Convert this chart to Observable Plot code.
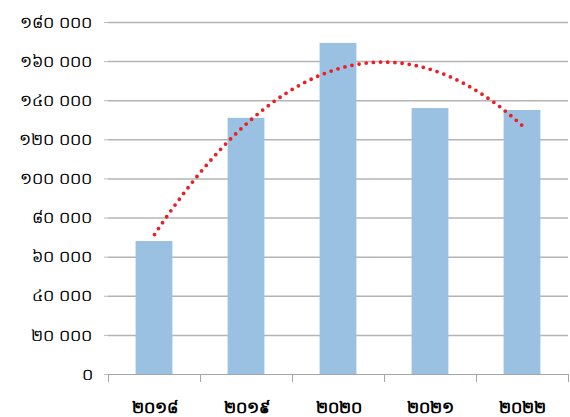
<!DOCTYPE html>
<html><head><meta charset="utf-8">
<script src="https://cdn.jsdelivr.net/npm/d3@7"></script>
<script src="https://cdn.jsdelivr.net/npm/@observablehq/plot@0.6"></script>
<style>body{margin:0;background:#fff;} </style>
</head><body><div id="chart"></div>
<script>
const years = [2018, 2019, 2020, 2021, 2022];
const values = [68000, 131000, 169300, 136000, 135000];
const yTicks = [0, 20000, 40000, 60000, 80000, 100000, 120000, 140000, 160000, 180000];

const khmer = s => String(s).replace(/[0-9]/g, d => String.fromCharCode(0x17E0 + +d));
const fmtY = v => khmer(v === 0 ? "0" : d3.format(",")(v).replace(/,/g, " "));

const data = years.map((y, i) => ({year: y, value: values[i]}));

// Quadratic (order 2) polynomial trendline fitted to the data by least squares
const n = years.length;
const xm = d3.mean(years);
const xs = years.map(y => y - xm);
const ym = d3.mean(values);
const sxx = d3.sum(xs, x => x * x);
const b = d3.sum(xs.map((x, i) => x * values[i])) / sxx;
const q = xs.map(x => x * x - sxx / n);
const c = d3.sum(q.map((v, i) => v * values[i])) / d3.sum(q, v => v * v);
const fit = x => ym + b * (x - xm) + c * ((x - xm) ** 2 - sxx / n);
const trend = d3.range(years[0], years[n - 1] + 0.0001, 0.05).map(x => ({x, y: fit(x)}));

const font = "'DejaVu Sans', 'Noto Sans', sans-serif";
const chart = Plot.plot({
  width: 570, height: 417,
  marginLeft: 108, marginRight: 2, marginTop: 22, marginBottom: 43,
  style: {fontFamily: font, background: "#fff", color: "#000"},
  x: {domain: [2017.5, 2022.5]},
  y: {domain: [0, 180000]},
  marks: [
    Plot.ruleY(yTicks.filter(t => t > 0), {stroke: "#b4b4b4", strokeWidth: 1.5}),
    Plot.rectY(data, {x1: d => d.year - 0.2, x2: d => d.year + 0.2, y: "value", fill: "#9bc1e2"}),
    Plot.ruleY([0], {stroke: "#a6a6a6", strokeWidth: 1}),
    Plot.line(trend, {x: "x", y: "y", stroke: "#ee1c25", strokeWidth: 3.8, strokeDasharray: "0 7.2", strokeLinecap: "round", curve: "linear"}),
    Plot.axisY({ticks: yTicks, tickFormat: fmtY, tickSize: 4, tickPadding: 12, stroke: "#bbb", fontSize: 16, label: null}),
    Plot.axisX({ticks: [2017.5, 2018.5, 2019.5, 2020.5, 2021.5, 2022.5], tickFormat: () => "", tickSize: 8, stroke: "#a6a6a6", label: null}),
    Plot.axisX({ticks: years, tickFormat: khmer, tickSize: 0, tickPadding: 27, fontSize: 16, fontWeight: "bold", label: null})
  ]
});
document.getElementById("chart").appendChild(chart);
</script></body></html>
